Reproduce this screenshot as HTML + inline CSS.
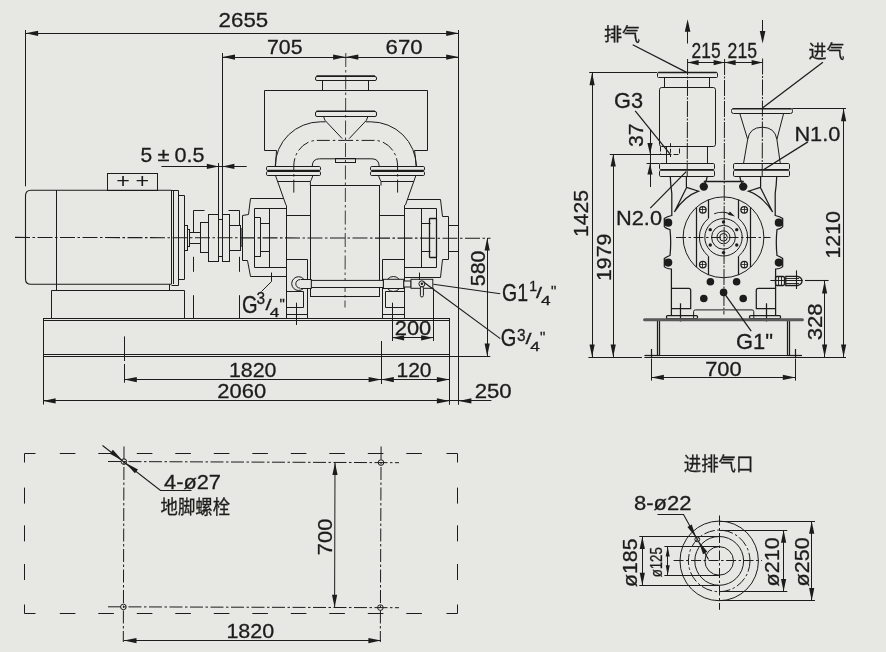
<!DOCTYPE html>
<html lang="zh-CN">
<head>
<meta charset="utf-8">
<title>外形尺寸图</title>
<style>
html,body{margin:0;padding:0;background:#e7e8e3;}
body{width:886px;height:652px;overflow:hidden;}
svg{display:block;will-change:transform;}
svg *{vector-effect:none;}
.d .ah{fill:#1c1c1c;stroke:none;}
.d text{font-family:"Liberation Sans","Noto Sans CJK SC",sans-serif;fill:#1c1c1c;stroke:#1c1c1c;stroke-width:0.3;}
.d text.pl{stroke:none;}
.d text.cj{font-family:"Liberation Sans","Noto Sans CJK SC",sans-serif;}
</style>
</head>
<body>
<svg width="886" height="652" viewBox="0 0 886 652">
<rect x="0" y="0" width="886" height="652" fill="#e7e8e3"/>
<g class="d" fill="none" stroke="#1c1c1c" stroke-width="1">
<!-- side view: centre line -->
<line x1="15" y1="237.4" x2="490.5" y2="238.3" stroke-width="1.1" stroke-dasharray="15 2.5 2.5 2.5"/>
<!-- motor -->
<path d="M171.5 190.3 L31 190.3 Q25.5 190.3 25.5 196 L25.5 279 Q25.5 284.3 31 284.3 L171.5 284.3" stroke-width="1.1"/>
<line x1="56.5" y1="190" x2="56.5" y2="284"/>
<line x1="171.5" y1="190" x2="171.5" y2="284"/>
<line x1="173.5" y1="190" x2="173.5" y2="284"/>
<path d="M171.5 190.5 L178.5 190.5 L178.5 285.5 L171.5 285.5"/>
<path d="M178.5 195.5 L184.5 195.5 L184.5 279.5 L178.5 279.5"/>
<rect x="107.5" y="173.5" width="50" height="17"/>
<text x="116.2" y="188.4" font-size="19.5" textLength="13.6" lengthAdjust="spacingAndGlyphs" class="pl">+</text>
<text x="135.6" y="188.4" font-size="19.5" textLength="13.6" lengthAdjust="spacingAndGlyphs" class="pl">+</text>
<line x1="56.5" y1="284" x2="56.5" y2="290.2"/>
<line x1="169.5" y1="284" x2="169.5" y2="290.2"/>
<path d="M51.5 318.5 L51.5 290.5 L184.5 290.5 L184.5 318.5"/>
<!-- base frame -->
<line x1="43" y1="318.5" x2="449.5" y2="318.5"/>
<line x1="43" y1="320.5" x2="449.5" y2="320.5"/>
<line x1="43" y1="354.5" x2="449.5" y2="354.5"/>
<line x1="43" y1="356.5" x2="490.3" y2="356.5"/>
<line x1="43.5" y1="318" x2="43.5" y2="404.5"/>
<line x1="449.5" y1="318" x2="449.5" y2="404.8"/>
<!-- shaft and coupling -->
<rect x="184.5" y="225.5" width="3" height="25"/>
<rect x="187.5" y="229.5" width="2" height="17"/>
<rect x="189.5" y="232.5" width="11" height="11"/>
<rect x="200.5" y="222.5" width="8" height="30"/>
<rect x="208.5" y="214.5" width="10" height="47"/>
<rect x="222.5" y="214.5" width="7" height="47"/>
<rect x="218.5" y="219.5" width="4" height="37"/>
<rect x="229.5" y="225.5" width="11" height="25"/>
<line x1="240.8" y1="228" x2="240.8" y2="247" stroke-width="1.6"/>
<path d="M204.5 210.5 L193.5 210.5 L193.5 232.5"/>
<path d="M228.5 210.5 L239.5 210.5 L239.5 225.5"/>
<line x1="193.5" y1="256.8" x2="193.5" y2="271.8"/>
<line x1="193.5" y1="295.2" x2="193.5" y2="318"/>
<line x1="239.5" y1="256.8" x2="239.5" y2="271.8"/>
<line x1="239.5" y1="295.2" x2="239.5" y2="318"/>
<!-- pump: left bearing housing -->
<path d="M283.5 198.5 L250.5 198.5 L248.5 214.5 L242.5 215.5 L242.5 260.5 L247.5 260.5 L250.5 276.5 L286.5 276.5"/>
<path d="M286.5 208.5 L254.5 208.5 L254.5 267.5 L286.5 267.5"/>
<line x1="269.5" y1="208.2" x2="269.5" y2="267.1"/>
<path d="M260.5 217.5 L254.5 217.5"/>
<path d="M254.5 256.5 L260.5 256.5"/>
<line x1="260.5" y1="217.7" x2="260.5" y2="256.8"/>
<path d="M260.5 223.5 L269.5 223.5"/>
<path d="M260.5 251.5 L269.5 251.5"/>
<!-- pump: right bearing housing -->
<path d="M407.5 199.5 L440.5 199.5 L442.5 216.5 L448.5 216.5 L448.5 259.5 L442.5 259.5 L440.5 277.5 L404.5 277.5"/>
<path d="M404.5 208.5 L436.5 208.5 L436.5 267.5 L404.5 267.5"/>
<line x1="421.5" y1="208.5" x2="421.5" y2="267.1"/>
<rect x="429.5" y="218.5" width="7" height="39" stroke-width="1.3" rx="0.5"/>
<path d="M421.5 223.5 L430.5 223.5"/>
<path d="M421.5 251.5 L430.5 251.5"/>
<rect x="448.5" y="225.5" width="10" height="26"/>
<!-- pump: body -->
<line x1="286.5" y1="205.2" x2="286.5" y2="318"/>
<line x1="404.5" y1="205.2" x2="404.5" y2="318"/>
<rect x="310.5" y="185.5" width="69" height="111"/>
<line x1="286" y1="215.5" x2="310.4" y2="215.5"/>
<line x1="379.8" y1="215.5" x2="404.3" y2="215.5"/>
<line x1="345.8" y1="53" x2="345" y2="307.5" stroke-width="0.85" stroke-dasharray="14 3 2.5 3"/>
<path d="M286.5 259.5 L307.5 259.5 L307.5 318.5"/>
<path d="M404.5 259.5 L382.5 259.5 L382.5 318.5"/>
<path d="M286.5 291.5 L303.5 291.5 L303.5 307.5 L286.5 307.5"/>
<line x1="286" y1="314.5" x2="307.7" y2="314.5"/>
<path d="M404.5 291.5 L385.5 291.5 L385.5 307.5 L404.5 307.5"/>
<line x1="382.2" y1="314.5" x2="404.3" y2="314.5"/>
<line x1="296.5" y1="302.7" x2="296.5" y2="325"/>
<line x1="392.5" y1="302.7" x2="392.5" y2="341"/>
<!-- pump: drain pipe and valve -->
<circle cx="298.6" cy="283.6" r="6.9"/>
<rect x="300" y="279.6" width="11.3" height="8.5" stroke="none" style="fill:#e7e8e3"/>
<path d="M300.5 279.5 L311.5 279.5 L311.5 288.5 L300.5 288.5"/>
<path d="M300 279.6 A4.2 4.25 0 0 0 300 288.1"/>
<rect x="311.3" y="280.4" width="72.1" height="7.1" style="fill:#e7e8e3"/>
<circle cx="393.4" cy="284" r="7.5"/>
<rect x="383.4" y="279.3" width="20.4" height="9.2" style="fill:#e7e8e3"/>
<rect x="403.8" y="281" width="7.2" height="6" style="fill:#e7e8e3"/>
<rect x="411" y="279.3" width="21.8" height="9" style="fill:#e7e8e3"/>
<circle cx="421.9" cy="283.8" r="3"/>
<circle class="ah" cx="421.9" cy="283.8" r="1.2"/>
<rect x="420.4" y="286.6" width="3" height="10.4" rx="1.5" style="fill:#e7e8e3"/>
<line x1="419.5" y1="272.6" x2="419.5" y2="280"/>
<line x1="433.5" y1="288.3" x2="433.5" y2="341"/>
<!-- pump: flanges and elbows -->
<rect x="266.5" y="166.5" width="54" height="4" rx="1.2"/>
<rect x="266.5" y="171.5" width="54" height="4" rx="1.2"/>
<line x1="267.7" y1="170.5" x2="319.6" y2="170.5" stroke-width="1.4"/>
<path d="M275.4 175.2 L286 205.2"/>
<path d="M313 175.2 Q311.4 180 310.4 181.5 L310.4 185.5"/>
<line x1="277.5" y1="181.5" x2="310.4" y2="181.5"/>
<path d="M275.2 166.4 A45.5 44.6 0 0 1 320.7 121.8 L325.5 121.8"/>
<path d="M293.8 192.6 L293.8 166 A23.2 25.6 0 0 1 317 140.4 L345.7 140.4" stroke-dasharray="13 3 2.5 3"/>
<path d="M312.2 166.4 Q312.4 158.8 319.5 158.8 L345.7 158.8"/>
<path d="M323.4 116.2 Q324.5 121 327.5 123 L342.2 138.6"/>
<path d="M264.5 150.5 L276.5 150.5 L275.5 166.5"/>
<rect x="370.5" y="166.5" width="54" height="4" rx="1.2"/>
<rect x="370.5" y="171.5" width="54" height="4" rx="1.2"/>
<line x1="371.8" y1="170.5" x2="423.7" y2="170.5" stroke-width="1.4"/>
<path d="M416 175.2 L405.4 205.2"/>
<path d="M378.4 175.2 Q380 180 381 181.5 L381 185.5"/>
<line x1="413.9" y1="181.5" x2="381" y2="181.5"/>
<path d="M416.2 166.4 A45.5 44.6 0 0 0 370.7 121.8 L365.9 121.8"/>
<path d="M397.6 192.6 L397.6 166 A23.2 25.6 0 0 0 374.4 140.4 L345.7 140.4" stroke-dasharray="13 3 2.5 3"/>
<path d="M379.2 166.4 Q379 158.8 371.9 158.8 L345.7 158.8"/>
<path d="M368 116.2 Q366.9 121 363.9 123 L349.2 138.6"/>
<path d="M427.5 150.5 L414.5 150.5 L416.5 166.5"/>
<rect x="335.5" y="158.5" width="20" height="4"/>
<path d="M264.5 150.5 L264.5 90.5 L427.5 90.5 L427.5 150.5"/>
<rect x="315.5" y="76.5" width="61" height="4" rx="1.5"/>
<line x1="316.5" y1="76" x2="375" y2="76" stroke-width="1.6"/>
<line x1="322.5" y1="80.7" x2="322.5" y2="90.2"/>
<line x1="368.5" y1="80.7" x2="368.5" y2="90.2"/>
<rect x="315.5" y="111.5" width="61" height="5" rx="1.5"/>
<line x1="316.5" y1="111.2" x2="375" y2="111.2" stroke-width="1.6"/>
<!-- side view: dimensions -->
<line x1="25.5" y1="30" x2="25.5" y2="186.3"/>
<line x1="458.5" y1="30" x2="458.5" y2="404.8"/>
<line x1="25.5" y1="33.5" x2="458.8" y2="33.5"/>
<polygon class="ah" points="25.5,33.3 38.1,30.7 38.1,35.9"/>
<polygon class="ah" points="458.8,33.3 446.2,35.9 446.2,30.7"/>
<text x="218.6" y="27.1" font-size="21" textLength="49.6" lengthAdjust="spacingAndGlyphs">2655</text>
<line x1="222.5" y1="53" x2="222.5" y2="214.4"/>
<line x1="218.5" y1="163" x2="218.5" y2="214.4"/>
<line x1="222.4" y1="57.5" x2="458.8" y2="57.5"/>
<polygon class="ah" points="222.4,57.1 235,54.5 235,59.7"/>
<polygon class="ah" points="345.7,57.1 333.1,59.7 333.1,54.5"/>
<polygon class="ah" points="345.7,57.1 358.3,54.5 358.3,59.7"/>
<polygon class="ah" points="458.8,57.1 446.2,59.7 446.2,54.5"/>
<text x="267" y="54.2" font-size="21" textLength="35.5" lengthAdjust="spacingAndGlyphs">705</text>
<text x="385.6" y="54.2" font-size="21" textLength="37" lengthAdjust="spacingAndGlyphs">670</text>
<line x1="161.4" y1="166.5" x2="246.7" y2="166.5"/>
<polygon class="ah" points="218.8,166.4 206.8,169 206.8,163.8"/>
<polygon class="ah" points="222.4,166.4 234.4,163.8 234.4,169"/>
<text x="140.6" y="162" font-size="21">5</text>
<text x="157.4" y="161.4" font-size="18.5" textLength="12" lengthAdjust="spacingAndGlyphs">±</text>
<text x="174.6" y="162" font-size="21" textLength="30" lengthAdjust="spacingAndGlyphs">0.5</text>
<line x1="487.5" y1="238" x2="487.5" y2="356.2"/>
<polygon class="ah" points="487.2,238 489.8,250.6 484.6,250.6"/>
<polygon class="ah" points="487.2,356.2 484.6,343.6 489.8,343.6"/>
<text transform="translate(484.8 286.2) rotate(-90)" font-size="21" textLength="35.5" lengthAdjust="spacingAndGlyphs">580</text>
<line x1="392.1" y1="337.5" x2="433.1" y2="337.5"/>
<polygon class="ah" points="392.1,337.8 404.1,335.2 404.1,340.4"/>
<polygon class="ah" points="433.1,337.8 421.1,340.4 421.1,335.2"/>
<text x="394.8" y="335.4" font-size="21" textLength="36.5" lengthAdjust="spacingAndGlyphs">200</text>
<line x1="124.5" y1="336.4" x2="124.5" y2="361"/>
<line x1="124.5" y1="364" x2="124.5" y2="382.7"/>
<line x1="381.5" y1="341" x2="381.5" y2="384"/>
<line x1="124.2" y1="379.5" x2="449.5" y2="379.5"/>
<polygon class="ah" points="124.2,379.6 136.8,377 136.8,382.2"/>
<polygon class="ah" points="381.2,379.6 368.6,382.2 368.6,377"/>
<polygon class="ah" points="381.2,379.6 393.8,377 393.8,382.2"/>
<polygon class="ah" points="449.5,379.6 436.9,382.2 436.9,377"/>
<text x="229" y="377.3" font-size="21" textLength="47.5" lengthAdjust="spacingAndGlyphs">1820</text>
<text x="396.5" y="377.3" font-size="21" textLength="35" lengthAdjust="spacingAndGlyphs">120</text>
<line x1="43" y1="400.5" x2="491.4" y2="400.5"/>
<polygon class="ah" points="43,400.9 55.6,398.3 55.6,403.5"/>
<polygon class="ah" points="449.5,400.9 436.9,403.5 436.9,398.3"/>
<polygon class="ah" points="458.8,400.9 471.4,398.3 471.4,403.5"/>
<text x="217.3" y="398.2" font-size="21" textLength="48.8" lengthAdjust="spacingAndGlyphs">2060</text>
<text x="474.7" y="397.5" font-size="21" textLength="37" lengthAdjust="spacingAndGlyphs">250</text>
<text transform="translate(242 313.2) scale(1 1.16)" font-size="20" textLength="15.6" lengthAdjust="spacingAndGlyphs">G</text>
<text x="256.4" y="303.6" font-size="16.5" textLength="8.6" lengthAdjust="spacingAndGlyphs">3</text>
<text x="265.6" y="309.8" font-size="15" textLength="6" lengthAdjust="spacingAndGlyphs">/</text>
<text x="269.8" y="316.6" font-size="13.6" textLength="9.6" lengthAdjust="spacingAndGlyphs">4</text>
<text x="279.4" y="308.6" font-size="15">&quot;</text>
<path d="M261.5 291.5 L271.5 281.5 L271.5 272.5"/>
<text transform="translate(502 300.8) scale(1 1.16)" font-size="20" textLength="26" lengthAdjust="spacingAndGlyphs">G1</text>
<text x="529.2" y="291.2" font-size="14">1</text>
<text x="536" y="298.2" font-size="15" textLength="6" lengthAdjust="spacingAndGlyphs">/</text>
<text x="541" y="305.4" font-size="13.6" textLength="9.6" lengthAdjust="spacingAndGlyphs">4</text>
<text x="551" y="296.4" font-size="15">&quot;</text>
<text transform="translate(500.7 346.2) scale(1 1.16)" font-size="20" textLength="15.6" lengthAdjust="spacingAndGlyphs">G</text>
<text x="516.9" y="340.6" font-size="16.5" textLength="8.6" lengthAdjust="spacingAndGlyphs">3</text>
<text x="525.5" y="343.8" font-size="15" textLength="6" lengthAdjust="spacingAndGlyphs">/</text>
<text x="530.3" y="350.8" font-size="13.6" textLength="9.6" lengthAdjust="spacingAndGlyphs">4</text>
<text x="540.1" y="341.8" font-size="15">&quot;</text>
<line x1="433.4" y1="284.3" x2="500.3" y2="293.8" stroke-width="1.15"/>
<line x1="423.5" y1="282" x2="500.3" y2="338.6" stroke-width="1.15"/>
<!-- end view: centre lines -->
<line x1="687.6" y1="59" x2="687.2" y2="176" stroke-dasharray="16 1.5 2 1.5"/>
<line x1="762.6" y1="58.5" x2="762.2" y2="176" stroke-dasharray="16 1.5 2 1.5"/>
<line x1="724.6" y1="59" x2="723.9" y2="314.5" stroke-dasharray="16 1.5 2 1.5"/>
<line x1="676" y1="237.5" x2="770.5" y2="237.5" stroke-dasharray="10 2.5 2.5 2.5"/>
<!-- end view: exhaust separator -->
<rect x="657.5" y="72.5" width="60" height="5" rx="1"/>
<line x1="658" y1="72.5" x2="716.6" y2="72.5" stroke-width="1.5"/>
<line x1="664.5" y1="77.6" x2="664.5" y2="87.4"/>
<line x1="709.5" y1="77.6" x2="709.5" y2="87.4"/>
<rect x="659.5" y="87.5" width="56" height="59" rx="2.2"/>
<line x1="666.5" y1="146.6" x2="666.5" y2="163.6"/>
<line x1="707.5" y1="146.6" x2="707.5" y2="163.6"/>
<path d="M660.5 146.5 L660.5 154.5 L679.5 154.5 L679.5 146.5" stroke-dasharray="5 2"/>
<line x1="670.5" y1="143.2" x2="670.5" y2="157" stroke-dasharray="4 1.5"/>
<!-- end view: inlet -->
<rect x="731.5" y="108.5" width="61" height="5" rx="2"/>
<line x1="733" y1="108.8" x2="791" y2="108.8" stroke-width="1.6"/>
<path d="M739.8 113.5 L747.7 139.4 L743.5 163.6"/>
<path d="M783.6 113.5 L776.9 139.4 L780.3 163.6"/>
<path d="M747.7 139.4 Q749.5 127.4 762.3 127.2 Q775 127.4 776.9 139.4"/>
<!-- end view: flange pairs -->
<rect x="659.5" y="163.5" width="55" height="6" rx="1.2"/>
<rect x="659.5" y="170.5" width="55" height="6" rx="1.2"/>
<line x1="660.5" y1="170.5" x2="713.2" y2="170.5" stroke-width="1.1" stroke="#444"/>
<rect x="733.5" y="163.5" width="56" height="6" rx="1.2"/>
<rect x="733.5" y="170.5" width="56" height="6" rx="1.2"/>
<line x1="734.4" y1="170.5" x2="788.4" y2="170.5" stroke-width="1.1" stroke="#444"/>
<!-- end view: casing -->
<path d="M670.3 176.6 Q670.6 186 671.8 193.4 L671.8 215.5 Q667 216.5 664.3 218.5 L664.3 226.5 Q665.5 228.5 670 229.5 Q671.4 242.5 670 255.5 Q667 256.5 664.3 258.5 L664.3 266.5 Q665.5 268.5 671.4 269 L671.4 315.3" stroke-width="1.25"/>
<circle class="ah" cx="668.2" cy="222.7" r="4.1"/>
<circle class="ah" cx="668.2" cy="262.6" r="4.1"/>
<path d="M686.4 176.6 L686.4 187" stroke-width="1.25"/>
<path d="M686.6 187.4 L698.6 191.2 Q684 196.5 674.4 212 Z" stroke-width="1.25"/>
<path d="M707.2 176.6 Q706.6 181 704.5 184" stroke-width="1.25"/>
<circle class="ah" cx="703.8" cy="186.6" r="4.2"/>
<line x1="696.5" y1="207.5" x2="696.5" y2="267" stroke-width="1.25"/>
<line x1="708.5" y1="199.7" x2="708.5" y2="218.4" stroke-width="1.25"/>
<line x1="708.5" y1="256.2" x2="708.5" y2="275" stroke-width="1.25"/>
<circle cx="702.8" cy="209.8" r="3.3" stroke-width="1.25"/>
<line x1="699.5" y1="209.5" x2="706.1" y2="209.5" stroke-width="0.8"/>
<line x1="702.5" y1="206.5" x2="702.5" y2="213.1" stroke-width="0.8"/>
<circle cx="702.8" cy="264.6" r="3.3" stroke-width="1.25"/>
<line x1="699.5" y1="264.5" x2="706.1" y2="264.5" stroke-width="0.8"/>
<line x1="702.5" y1="261.3" x2="702.5" y2="267.9" stroke-width="0.8"/>
<path d="M671.4 288.3 L688.7 288.3 Q690.7 288.3 690.7 290.3 L690.7 308.6 L671.4 308.6" stroke-width="1.25"/>
<rect x="666.5" y="315.5" width="31" height="3" stroke-width="1.25" rx="1"/>
<line x1="680.5" y1="303.3" x2="680.5" y2="321.5" stroke-width="1.25"/>
<circle class="ah" cx="710.4" cy="281.8" r="3.8"/>
<circle class="ah" cx="703.8" cy="298.5" r="3.8"/>
<line x1="657.5" y1="320.5" x2="657.5" y2="355.6" stroke-width="1.25"/>
<line x1="659.5" y1="320.5" x2="659.5" y2="355.6" stroke-width="1.25"/>
<line x1="645" y1="355.5" x2="659.8" y2="355.5" stroke-width="1.25"/>
<line x1="651.5" y1="349" x2="651.5" y2="357.5" stroke-width="1.25"/>
<path d="M776.7 176.6 Q776.4 186 775.2 193.4 L775.2 215.5 Q780 216.5 782.7 218.5 L782.7 226.5 Q781.5 228.5 777 229.5 Q775.6 242.5 777 255.5 Q780 256.5 782.7 258.5 L782.7 266.5 Q781.5 268.5 775.6 269 L775.6 315.3" stroke-width="1.25"/>
<circle class="ah" cx="778.8" cy="222.7" r="4.1"/>
<circle class="ah" cx="778.8" cy="262.6" r="4.1"/>
<path d="M760.6 176.6 L760.6 187" stroke-width="1.25"/>
<path d="M760.4 187.4 L748.4 191.2 Q763 196.5 772.6 212 Z" stroke-width="1.25"/>
<path d="M739.8 176.6 Q740.4 181 742.5 184" stroke-width="1.25"/>
<circle class="ah" cx="743.2" cy="186.6" r="4.2"/>
<line x1="750.5" y1="207.5" x2="750.5" y2="267" stroke-width="1.25"/>
<line x1="738.5" y1="199.7" x2="738.5" y2="218.4" stroke-width="1.25"/>
<line x1="738.5" y1="256.2" x2="738.5" y2="275" stroke-width="1.25"/>
<circle cx="744.2" cy="209.8" r="3.3" stroke-width="1.25"/>
<line x1="740.9" y1="209.5" x2="747.5" y2="209.5" stroke-width="0.8"/>
<line x1="744.5" y1="206.5" x2="744.5" y2="213.1" stroke-width="0.8"/>
<circle cx="744.2" cy="264.6" r="3.3" stroke-width="1.25"/>
<line x1="740.9" y1="264.5" x2="747.5" y2="264.5" stroke-width="0.8"/>
<line x1="744.5" y1="261.3" x2="744.5" y2="267.9" stroke-width="0.8"/>
<path d="M775.6 288.3 L758.3 288.3 Q756.3 288.3 756.3 290.3 L756.3 308.6 L775.6 308.6" stroke-width="1.25"/>
<rect x="749.5" y="315.5" width="31" height="3" stroke-width="1.25" rx="1"/>
<line x1="766.5" y1="303.3" x2="766.5" y2="321.5" stroke-width="1.25"/>
<circle class="ah" cx="736.6" cy="281.8" r="3.8"/>
<circle class="ah" cx="743.2" cy="298.5" r="3.8"/>
<line x1="787.5" y1="320.5" x2="787.5" y2="355.6" stroke-width="1.25"/>
<line x1="789.5" y1="320.5" x2="789.5" y2="355.6" stroke-width="1.25"/>
<line x1="802" y1="355.5" x2="787.2" y2="355.5" stroke-width="1.25"/>
<line x1="795.5" y1="349" x2="795.5" y2="357.5" stroke-width="1.25"/>
<line x1="703.8" y1="181.5" x2="743.8" y2="181.5" stroke-width="1.3"/>
<circle class="ah" cx="723.6" cy="292.4" r="3.8"/>
<circle cx="723.5" cy="237.3" r="40.4"/>
<path d="M708.5 218.4 A24.1 24.1 0 0 0 708.5 256.2"/>
<path d="M738.5 218.4 A24.1 24.1 0 0 1 738.5 256.2"/>
<circle cx="723.5" cy="237.3" r="18.7"/>
<circle cx="723.5" cy="237.3" r="11.9"/>
<circle cx="723.5" cy="237.3" r="6.5"/>
<circle cx="723.5" cy="237.3" r="3.8"/>
<circle class="ah" cx="723.5" cy="252.6" r="1.7"/>
<circle class="ah" cx="710.25" cy="244.95" r="1.7"/>
<circle class="ah" cx="710.25" cy="229.65" r="1.7"/>
<circle class="ah" cx="723.5" cy="222" r="1.7"/>
<circle class="ah" cx="736.75" cy="229.65" r="1.7"/>
<circle class="ah" cx="736.75" cy="244.95" r="1.7"/>
<path d="M714.2 213.8 Q721.5 211 729 213.4" stroke-width="1.1"/>
<polygon class="ah" points="735,216.6 728.04,214.66 729.84,211.54"/>
<path d="M693.6 318.8 L693.6 311.6 Q693.6 309.9 695.4 309.9 L752 309.9 Q753.8 309.9 753.8 311.6 L753.8 318.8"/>
<line x1="644.6" y1="319.8" x2="802.4" y2="319.8" stroke-width="3.1" stroke="#5a5a5a" stroke-linecap="round"/>
<line x1="644.4" y1="357.5" x2="802" y2="357.5"/>
<line x1="644.4" y1="355.5" x2="802" y2="355.5"/>
<line x1="770.4" y1="280.5" x2="802.6" y2="280.5" stroke-width="1.2"/>
<rect x="775.5" y="276.5" width="9" height="9" stroke-width="1.3" rx="1.4"/>
<line x1="778.5" y1="276.6" x2="778.5" y2="285.3" stroke-width="0.9"/>
<line x1="781.5" y1="276.6" x2="781.5" y2="285.3" stroke-width="0.9"/>
<path d="M785.8 276.4 L797.6 276.4 Q802 277.6 802 281 Q802 284.3 797.6 285.5 L785.8 285.5 Z" stroke-width="1.3"/>
<line x1="786" y1="278.5" x2="799" y2="278.5" stroke-width="0.9"/>
<line x1="786" y1="283.5" x2="799" y2="283.5" stroke-width="0.9"/>
<line x1="796.5" y1="270.4" x2="796.5" y2="289" stroke-width="1.1"/>
<!-- end view: dimensions -->
<polygon class="ah" points="687.6,19.2 690.4,31.8 684.8,31.8"/>
<line x1="687.5" y1="30" x2="687.5" y2="43.5"/>
<line x1="762.5" y1="20" x2="762.5" y2="32"/>
<polygon class="ah" points="762.6,43.5 759.8,30.9 765.4,30.9"/>
<line x1="687.6" y1="62.5" x2="762.6" y2="62.5"/>
<polygon class="ah" points="687.6,62.6 698.6,60 698.6,65.2"/>
<polygon class="ah" points="724.6,62.6 713.6,65.2 713.6,60"/>
<polygon class="ah" points="724.6,62.6 735.6,60 735.6,65.2"/>
<polygon class="ah" points="762.6,62.6 751.6,65.2 751.6,60"/>
<text x="691.6" y="57.7" font-size="21.5" textLength="29" lengthAdjust="spacingAndGlyphs">215</text>
<text x="727.6" y="57.7" font-size="21.5" textLength="29.4" lengthAdjust="spacingAndGlyphs">215</text>
<text x="604" y="41" font-size="18" class="cj">排气</text>
<line x1="632.7" y1="44.8" x2="686.6" y2="72.4" stroke-width="1.25"/>
<text x="808.4" y="58" font-size="18" class="cj">进气</text>
<line x1="822.9" y1="62.2" x2="762.8" y2="107.8" stroke-width="1.25"/>
<line x1="589.2" y1="72.5" x2="657" y2="72.5"/>
<line x1="588.4" y1="357.5" x2="642" y2="357.5"/>
<line x1="592.5" y1="72.6" x2="592.5" y2="357"/>
<polygon class="ah" points="592.1,72.6 594.7,85.2 589.5,85.2"/>
<polygon class="ah" points="592.1,357 589.5,344.4 594.7,344.4"/>
<line x1="613.5" y1="154" x2="613.5" y2="357"/>
<polygon class="ah" points="613.2,154 615.8,166.6 610.6,166.6"/>
<polygon class="ah" points="613.2,357 610.6,344.4 615.8,344.4"/>
<line x1="609.8" y1="154.5" x2="670.3" y2="154.5"/>
<line x1="646.6" y1="163.5" x2="659.5" y2="163.5"/>
<line x1="650.5" y1="130" x2="650.5" y2="187"/>
<polygon class="ah" points="650,154 647.4,143 652.6,143"/>
<polygon class="ah" points="650,163.5 652.6,174.5 647.4,174.5"/>
<text transform="translate(642.5 147) rotate(-90)" font-size="21" textLength="23.5" lengthAdjust="spacingAndGlyphs">37</text>
<text transform="translate(588.4 237) rotate(-90)" font-size="21" textLength="47" lengthAdjust="spacingAndGlyphs">1425</text>
<text transform="translate(611.2 281) rotate(-90)" font-size="21" textLength="47.5" lengthAdjust="spacingAndGlyphs">1979</text>
<text transform="translate(614 107.8) scale(1 1.04)" font-size="21" textLength="29" lengthAdjust="spacingAndGlyphs">G3</text>
<line x1="635.2" y1="110.9" x2="670.3" y2="154.4" stroke-width="1.25"/>
<text x="616" y="224.8" font-size="21" textLength="46" lengthAdjust="spacingAndGlyphs">N2.0</text>
<line x1="650.3" y1="208.1" x2="686.2" y2="171.6" stroke-width="1.25"/>
<text x="794.4" y="140.5" font-size="21" textLength="46" lengthAdjust="spacingAndGlyphs">N1.0</text>
<line x1="807.9" y1="141.9" x2="762.7" y2="170.3" stroke-width="1.25"/>
<text transform="translate(736 348.6) scale(1 1.05)" font-size="21" textLength="37" lengthAdjust="spacingAndGlyphs">G1&quot;</text>
<line x1="723.6" y1="292.4" x2="751.2" y2="331.1" stroke-width="1.25"/>
<line x1="792.3" y1="108.5" x2="846" y2="108.5"/>
<line x1="802" y1="357.5" x2="846" y2="357.5"/>
<line x1="843.5" y1="108.6" x2="843.5" y2="357"/>
<polygon class="ah" points="843.6,108.6 846.2,121.2 841,121.2"/>
<polygon class="ah" points="843.6,357 841,344.4 846.2,344.4"/>
<text transform="translate(839.5 258.5) rotate(-90)" font-size="21" textLength="47.5" lengthAdjust="spacingAndGlyphs">1210</text>
<line x1="805" y1="280.5" x2="828.6" y2="280.5" stroke-width="1.1"/>
<line x1="824.5" y1="280.9" x2="824.5" y2="357"/>
<polygon class="ah" points="824.6,280.9 827.2,293.5 822,293.5"/>
<polygon class="ah" points="824.6,357 822,344.4 827.2,344.4"/>
<text transform="translate(822.2 340.3) rotate(-90)" font-size="21" textLength="37" lengthAdjust="spacingAndGlyphs">328</text>
<line x1="651.5" y1="358.5" x2="651.5" y2="380.6"/>
<line x1="795.5" y1="358.5" x2="795.5" y2="380.6"/>
<line x1="651.3" y1="377.5" x2="795.4" y2="377.5"/>
<polygon class="ah" points="651.3,377.4 663.9,374.8 663.9,380"/>
<polygon class="ah" points="795.4,377.4 782.8,380 782.8,374.8"/>
<text x="705.2" y="375.6" font-size="21" textLength="36.5" lengthAdjust="spacingAndGlyphs">700</text>
<!-- plan view -->
<path d="M35.5 453.5 L24.5 453.5 L24.5 462.5"/>
<path d="M24.5 604.5 L24.5 613.5 L35.5 613.5"/>
<path d="M446.5 453.5 L457.5 453.5 L457.5 462.5"/>
<path d="M457.5 604.5 L457.5 613.5 L446.5 613.5"/>
<line x1="59.8" y1="453.5" x2="75.4" y2="453.5"/>
<line x1="59.8" y1="613.5" x2="75.4" y2="613.5"/>
<line x1="98.3" y1="453.5" x2="113.9" y2="453.5"/>
<line x1="98.3" y1="613.5" x2="113.9" y2="613.5"/>
<line x1="136.8" y1="453.5" x2="152.4" y2="453.5"/>
<line x1="136.8" y1="613.5" x2="152.4" y2="613.5"/>
<line x1="175.3" y1="453.5" x2="190.9" y2="453.5"/>
<line x1="175.3" y1="613.5" x2="190.9" y2="613.5"/>
<line x1="213.8" y1="453.5" x2="229.4" y2="453.5"/>
<line x1="213.8" y1="613.5" x2="229.4" y2="613.5"/>
<line x1="252.3" y1="453.5" x2="267.9" y2="453.5"/>
<line x1="252.3" y1="613.5" x2="267.9" y2="613.5"/>
<line x1="290.8" y1="453.5" x2="306.4" y2="453.5"/>
<line x1="290.8" y1="613.5" x2="306.4" y2="613.5"/>
<line x1="329.3" y1="453.5" x2="344.9" y2="453.5"/>
<line x1="329.3" y1="613.5" x2="344.9" y2="613.5"/>
<line x1="367.8" y1="453.5" x2="383.4" y2="453.5"/>
<line x1="367.8" y1="613.5" x2="383.4" y2="613.5"/>
<line x1="406.3" y1="453.5" x2="421.9" y2="453.5"/>
<line x1="406.3" y1="613.5" x2="421.9" y2="613.5"/>
<line x1="24.5" y1="487.6" x2="24.5" y2="503.6"/>
<line x1="457.5" y1="487.6" x2="457.5" y2="503.6"/>
<line x1="24.5" y1="525.4" x2="24.5" y2="541.4"/>
<line x1="457.5" y1="525.4" x2="457.5" y2="541.4"/>
<line x1="24.5" y1="564" x2="24.5" y2="580"/>
<line x1="457.5" y1="564" x2="457.5" y2="580"/>
<line x1="108" y1="461.5" x2="399" y2="462.7" stroke-dasharray="13 2.5 2.5 2.5"/>
<line x1="108" y1="606.8" x2="399" y2="607.7" stroke-dasharray="13 2.5 2.5 2.5"/>
<line x1="124" y1="446.5" x2="123.3" y2="642" stroke-dasharray="13 2.5 2.5 2.5"/>
<line x1="381.1" y1="446.5" x2="380.3" y2="642" stroke-dasharray="13 2.5 2.5 2.5"/>
<circle cx="123.9" cy="461.6" r="2.8"/>
<circle cx="381" cy="462.6" r="2.8"/>
<circle cx="123.4" cy="606.9" r="2.8"/>
<circle cx="380.4" cy="607.6" r="2.8"/>
<line x1="335" y1="462.4" x2="334.6" y2="607.4"/>
<polygon class="ah" points="335,462.4 337.6,475 332.4,475"/>
<polygon class="ah" points="334.6,607.4 332,594.8 337.2,594.8"/>
<text transform="translate(331.6 555.2) rotate(-90)" font-size="21" textLength="36.5" lengthAdjust="spacingAndGlyphs">700</text>
<line x1="123.9" y1="640.5" x2="381" y2="640.5"/>
<polygon class="ah" points="123.9,640.6 136.5,638 136.5,643.2"/>
<polygon class="ah" points="381,640.6 368.4,643.2 368.4,638"/>
<text x="226.4" y="637.8" font-size="21" textLength="47.8" lengthAdjust="spacingAndGlyphs">1820</text>
<path d="M102.5 445.5 L160.5 490.5 L191.5 490.5" stroke-width="1.1"/>
<polygon class="ah" points="122.4,460.4 109.82,453.77 112.89,449.83"/>
<polygon class="ah" points="125.4,462.8 137.98,469.43 134.91,473.37"/>
<text x="164" y="488.5" font-size="21" textLength="57" lengthAdjust="spacingAndGlyphs">4-ø27</text>
<text x="160.6" y="514" font-size="19" textLength="69.4" lengthAdjust="spacingAndGlyphs" class="cj">地脚螺栓</text>
<!-- flange view -->
<text x="683.8" y="470.8" font-size="19" textLength="69.6" lengthAdjust="spacingAndGlyphs" class="cj">进排气口</text>
<ellipse cx="719.2" cy="560.9" rx="39.2" ry="39.8"/>
<circle cx="719.2" cy="560.9" r="30.8" stroke-dasharray="11 2.5 2.5 2.5"/>
<circle cx="719.2" cy="560.9" r="24.4"/>
<circle cx="719.2" cy="560.9" r="14.3"/>
<line x1="673.6" y1="560.5" x2="762" y2="560.5" stroke-dasharray="10 2.5 2.5 2.5"/>
<line x1="719.5" y1="515.5" x2="719.5" y2="609.8" stroke-dasharray="10 2.5 2.5 2.5"/>
<circle cx="697.3" cy="539.4" r="2.4"/>
<path d="M657.5 514.5 L683.5 514.5 L708.5 559.5" stroke-width="1.1"/>
<polygon class="ah" points="695.9,537.2 687.41,527.04 691.78,524.62"/>
<polygon class="ah" points="698.9,541.6 707.39,551.76 703.02,554.18"/>
<text x="634" y="510.1" font-size="21" textLength="57.5" lengthAdjust="spacingAndGlyphs">8-ø22</text>
<line x1="639.3" y1="536.5" x2="719.2" y2="536.5"/>
<line x1="639.3" y1="585.5" x2="719.2" y2="585.5"/>
<line x1="642.5" y1="536.5" x2="642.5" y2="585.3"/>
<polygon class="ah" points="642.3,536.5 644.9,549.1 639.7,549.1"/>
<polygon class="ah" points="642.3,585.3 639.7,572.7 644.9,572.7"/>
<text transform="translate(637.4 587) rotate(-90)" font-size="21" textLength="48.5" lengthAdjust="spacingAndGlyphs">ø185</text>
<line x1="664.4" y1="546.5" x2="719.2" y2="546.5"/>
<line x1="664.4" y1="575.5" x2="719.2" y2="575.5"/>
<line x1="667.5" y1="546.6" x2="667.5" y2="575.2"/>
<polygon class="ah" points="667.7,546.6 669.7,556.6 665.7,556.6"/>
<polygon class="ah" points="667.7,575.2 665.7,565.2 669.7,565.2"/>
<text transform="translate(661.9 577.3) rotate(-90)" font-size="17" textLength="30" lengthAdjust="spacingAndGlyphs">ø125</text>
<line x1="719.2" y1="530.5" x2="787.3" y2="530.5"/>
<line x1="719.2" y1="591.5" x2="787.3" y2="591.5"/>
<line x1="783.5" y1="530.1" x2="783.5" y2="591.6"/>
<polygon class="ah" points="783.6,530.1 786.2,542.7 781,542.7"/>
<polygon class="ah" points="783.6,591.6 781,579 786.2,579"/>
<text transform="translate(779.2 586.4) rotate(-90)" font-size="21" textLength="49" lengthAdjust="spacingAndGlyphs">ø210</text>
<line x1="719.2" y1="521.5" x2="815" y2="521.5"/>
<line x1="719.2" y1="600.5" x2="815" y2="600.5"/>
<line x1="811.5" y1="521.2" x2="811.5" y2="600.7"/>
<polygon class="ah" points="811.7,521.2 814.3,533.8 809.1,533.8"/>
<polygon class="ah" points="811.7,600.7 809.1,588.1 814.3,588.1"/>
<text transform="translate(808.5 586.4) rotate(-90)" font-size="21" textLength="49" lengthAdjust="spacingAndGlyphs">ø250</text>
</g>
</svg>
</body>
</html>
